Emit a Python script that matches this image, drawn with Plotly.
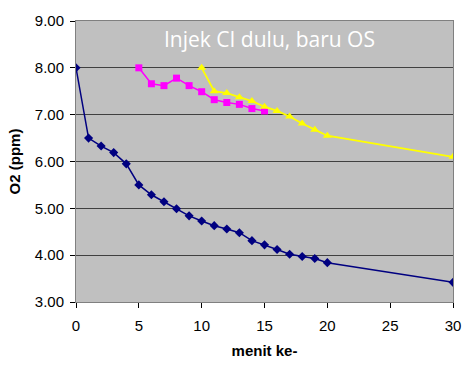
import plotly.graph_objects as go

blue_x = [0, 1, 2, 3, 4, 5, 6, 7, 8, 9, 10, 11, 12, 13, 14, 15, 16, 17, 18, 19, 20, 30]
blue_y = [8.00, 6.50, 6.33, 6.19, 5.95, 5.50, 5.29, 5.14, 4.99, 4.84, 4.73, 4.63, 4.56, 4.48,
          4.31, 4.22, 4.12, 4.02, 3.97, 3.93, 3.84, 3.42]

mag_x = [5, 6, 7, 8, 9, 10, 11, 12, 13, 14, 15]
mag_y = [8.00, 7.66, 7.62, 7.78, 7.62, 7.49, 7.32, 7.26, 7.22, 7.13, 7.08]

yel_x = [10, 11, 12, 13, 14, 15, 16, 17, 18, 19, 20, 30]
yel_y = [8.00, 7.50, 7.46, 7.37, 7.29, 7.17, 7.08, 6.96, 6.81, 6.68, 6.55, 6.10]

x_ticks = [0, 5, 10, 15, 20, 25, 30]
y_ticks = [3, 4, 5, 6, 7, 8, 9]

fig = go.Figure()
fig.add_trace(go.Scatter(x=blue_x, y=blue_y, mode="lines+markers",
                         line=dict(color="#000080", width=1.5),
                         marker=dict(symbol="diamond", size=7, color="#000080")))
fig.add_trace(go.Scatter(x=mag_x, y=mag_y, mode="lines+markers",
                         line=dict(color="#FF00FF", width=1.5),
                         marker=dict(symbol="square", size=7, color="#FF00FF")))
fig.add_trace(go.Scatter(x=yel_x, y=yel_y, mode="lines+markers",
                         line=dict(color="#FFFF00", width=1.8),
                         marker=dict(symbol="triangle-up", size=8, color="#FFFF00")))

fig.update_layout(
    width=473, height=371,
    margin=dict(l=76, r=18, t=16, b=69),
    paper_bgcolor="white",
    plot_bgcolor="#C0C0C0",
    showlegend=False,
    font=dict(family="Arial, Liberation Sans, sans-serif", color="black"),
    annotations=[dict(text="Injek CI dulu, baru OS", x=0.512, y=0.935, xref="paper", yref="paper",
                      xanchor="center", yanchor="middle",
                      showarrow=False, font=dict(family="Open Sans, sans-serif", size=21, color="white"))],
)
fig.update_xaxes(range=[0, 30], tickvals=x_ticks, ticktext=[str(v) for v in x_ticks],
                 showgrid=False, zeroline=False, showline=True, linecolor="#808080", linewidth=1,
                 mirror=True, ticks="outside", ticklen=5, tickcolor="black",
                 tickfont=dict(size=15), ticklabelstandoff=5,
                 title=dict(text="<b>menit ke-</b>", font=dict(size=15), standoff=12))
fig.update_yaxes(range=[3, 9], tickvals=y_ticks, ticktext=[f"{v:.2f}" for v in y_ticks],
                 showgrid=True, gridcolor="#404040", gridwidth=1, zeroline=False,
                 showline=True, linecolor="#808080", linewidth=1, mirror=True,
                 ticks="outside", ticklen=5, tickcolor="black",
                 tickfont=dict(size=15), ticklabelstandoff=3,
                 title=dict(text="<b>O2 (ppm)</b>", font=dict(size=15), standoff=10))

fig.write_html("out.html")
